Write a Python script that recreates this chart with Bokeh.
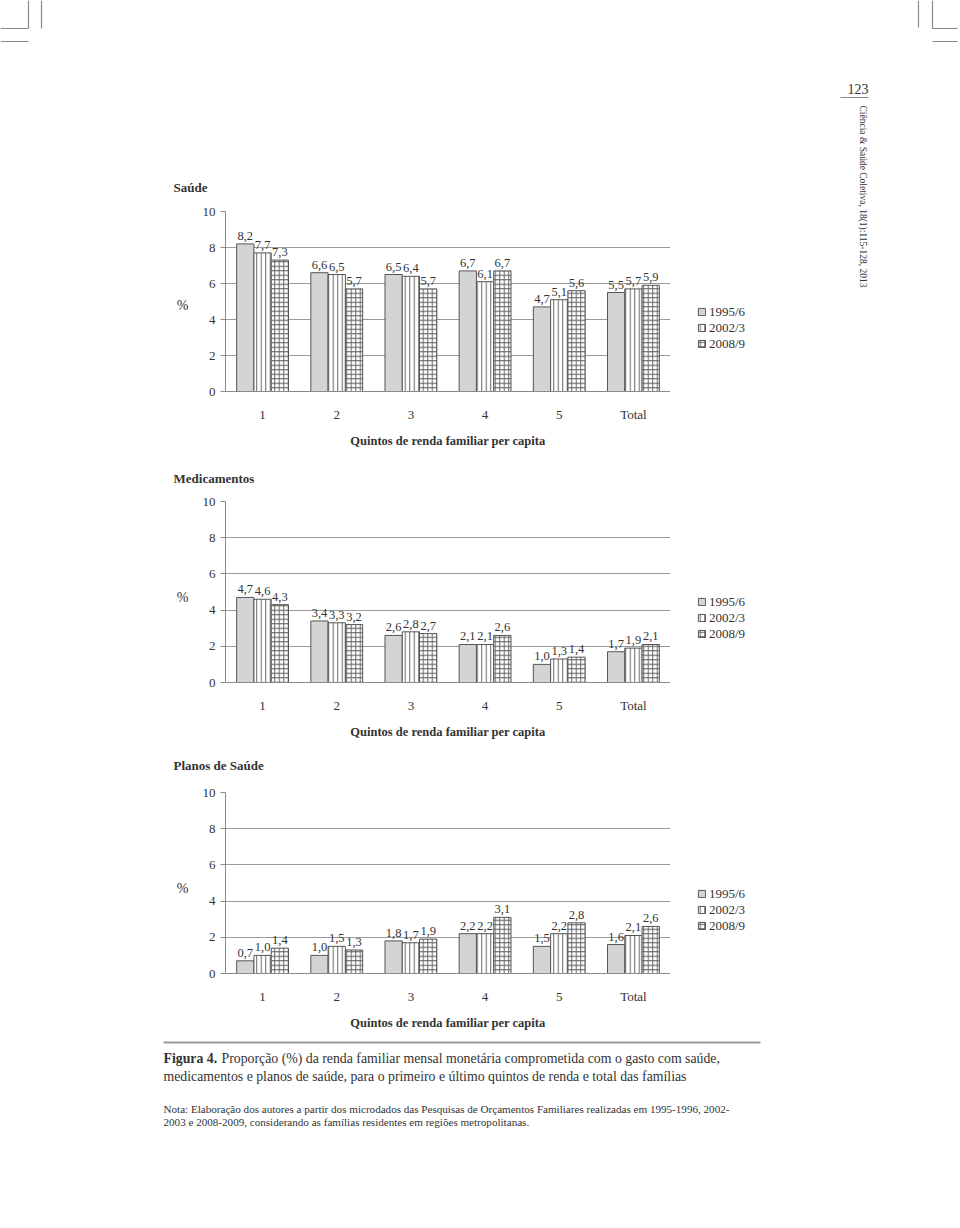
import math
from bokeh.plotting import figure
from bokeh.models import (ColumnDataSource, Range1d, FixedTicker, Label, Legend, LegendItem)
from bokeh.layouts import row, column
from bokeh.transform import dodge
from bokeh.embed import file_html
from bokeh.resources import INLINE
from bokeh.core.properties import value

# ---------------- data ----------------
categories = ["1", "2", "3", "4", "5", "Total"]
series = ["1995/6", "2002/3", "2008/9"]
y_ticks = [0, 2, 4, 6, 8, 10]
x_label = "Quintos de renda familiar per capita"

saude_1995 = [8.2, 6.6, 6.5, 6.7, 4.7, 5.5]
saude_2002 = [7.7, 6.5, 6.4, 6.1, 5.1, 5.7]
saude_2008 = [7.3, 5.7, 5.7, 6.7, 5.6, 5.9]

medic_1995 = [4.7, 3.4, 2.6, 2.1, 1.0, 1.7]
medic_2002 = [4.6, 3.3, 2.8, 2.1, 1.3, 1.9]
medic_2008 = [4.3, 3.2, 2.7, 2.6, 1.4, 2.1]

planos_1995 = [0.7, 1.0, 1.8, 2.2, 1.5, 1.6]
planos_2002 = [1.0, 1.5, 1.7, 2.2, 2.2, 2.1]
planos_2008 = [1.4, 1.3, 1.9, 3.1, 2.8, 2.6]

titles = ["Saúde", "Medicamentos", "Planos de Saúde"]

caption_bold = "Figura 4."
caption_line1 = "Proporção (%) da renda familiar mensal monetária comprometida com o gasto com saúde,"
caption_line2 = "medicamentos e planos de saúde, para o primeiro e último quintos de renda e total das famílias"
nota_line1 = ("Nota: Elaboração dos autores a partir dos microdados das Pesquisas de Orçamentos "
              "Familiares realizadas em 1995-1996, 2002-")
nota_line2 = "2003 e 2008-2009, considerando as famílias residentes em regiões metropolitanas."
journal = "Ciência & Saúde Coletiva, 18(1):115-128, 2013"
page_number = "123"

# ---------------- style ----------------
FONT = "Liberation Serif"
TXT = "#333333"
GRID = "#9a9a9a"
AXIS = "#8a8a8a"
EDGE = "#555555"
W_LEFT = 840
BAR_W = 0.233
OFFSETS = [-BAR_W, 0.0, BAR_W]
STYLES = [
    dict(fill_color="#d4d4d4"),
    dict(fill_color="white", hatch_pattern="|", hatch_color="#666666",
         hatch_scale=4.5, hatch_weight=1),
    dict(fill_color="white", hatch_pattern="+", hatch_color="#666666",
         hatch_scale=4.5, hatch_weight=1),
]


def fmt(v):
    return ("%.1f" % v).replace(".", ",")


def blank(width, height, x0, x1, y0, y1):
    p = figure(width=width, height=height, x_range=Range1d(x0, x1), y_range=Range1d(y0, y1),
               output_backend="svg", toolbar_location=None,
               x_axis_location=None, y_axis_location=None,
               min_border_left=0, min_border_right=0, min_border_top=0, min_border_bottom=0)
    p.frame_align = False
    p.outline_line_color = None
    p.xgrid.grid_line_color = None
    p.ygrid.grid_line_color = None
    p.background_fill_color = "white"
    p.border_fill_color = "white"
    return p


def chart_block(title, title_y, v1, v2, v3, y_top, title_h, row_h, top, bottom, pct_y,
                legend_bottom):
    # title strip
    tf = blank(W_LEFT, title_h, 0, W_LEFT, y_top + title_h, y_top)
    tf.add_layout(Label(x=173, y=title_y, text=title, text_font=FONT, text_font_size="13px",
                        text_font_style="bold", text_color=TXT, text_baseline="middle"))

    r0 = y_top + title_h
    r1 = r0 + row_h
    # left strip with "%"
    lf = blank(195, row_h, 0, 195, r1, r0)
    lf.add_layout(Label(x=182, y=pct_y, text="%", text_font=FONT, text_font_size="14px",
                        text_color=TXT, text_align="center", text_baseline="middle"))

    # chart
    p = figure(x_range=categories, y_range=Range1d(0, 10), width=670 - 195, height=row_h,
               output_backend="svg", toolbar_location=None,
               min_border_left=30, min_border_right=0,
               min_border_top=top, min_border_bottom=bottom)
    p.frame_align = False
    p.outline_line_color = None
    p.background_fill_color = "white"
    p.border_fill_color = "white"

    src = ColumnDataSource(dict(cat=categories, v1=v1, v2=v2, v3=v3,
                                l1=[fmt(v) for v in v1], l2=[fmt(v) for v in v2],
                                l3=[fmt(v) for v in v3]))
    for off, key, st in zip(OFFSETS, ["v1", "v2", "v3"], STYLES):
        p.vbar(x=dodge("cat", off, range=p.x_range), top=key, width=BAR_W, source=src,
               line_color=EDGE, line_width=1, **st)
    for off, key in zip(OFFSETS, ["l1", "l2", "l3"]):
        p.text(x=dodge("cat", off, range=p.x_range), y=key.replace("l", "v"), text=key,
               source=src, text_align="center", text_baseline="bottom", y_offset=-4,
               text_font=value(FONT), text_font_size="12.5px", text_color=TXT)

    p.yaxis.ticker = FixedTicker(ticks=y_ticks)
    p.ygrid.ticker = FixedTicker(ticks=y_ticks)
    p.ygrid.grid_line_color = GRID
    p.xgrid.grid_line_color = None
    p.yaxis.axis_line_color = AXIS
    p.yaxis.major_tick_line_color = AXIS
    p.yaxis.major_tick_in = 0
    p.yaxis.major_tick_out = 5
    p.yaxis.minor_tick_line_color = None
    p.yaxis.major_label_standoff = 5
    p.yaxis.major_label_text_font = FONT
    p.yaxis.major_label_text_font_size = "13px"
    p.yaxis.major_label_text_color = TXT

    p.xaxis.axis_line_color = AXIS
    p.xaxis.major_tick_line_color = None
    p.xaxis.minor_tick_line_color = None
    p.xaxis.major_label_standoff = 9
    p.xaxis.major_label_text_font = FONT
    p.xaxis.major_label_text_font_size = "13px"
    p.xaxis.major_label_text_color = TXT
    p.xaxis.axis_label = x_label
    p.xaxis.axis_label_standoff = 9
    p.xaxis.axis_label_text_font = FONT
    p.xaxis.axis_label_text_font_size = "12.5px"
    p.xaxis.axis_label_text_font_style = "bold"
    p.xaxis.axis_label_text_color = TXT

    # legend strip (swatch renderers are hidden; only their legend glyphs show)
    gf = blank(W_LEFT - 670, row_h, 670, W_LEFT, r1, r0)
    rends = []
    for st in STYLES:
        r = gf.vbar(x=[0], top=[0], width=1, line_color=EDGE, line_width=1, **st)
        r.visible = False
        rends.append(r)
    legend = Legend(items=[LegendItem(label=s, renderers=[r]) for s, r in zip(series, rends)],
                    location=(27, r1 - legend_bottom), orientation="vertical",
                    label_text_font=FONT, label_text_font_size="13px", label_text_color=TXT,
                    glyph_width=9, glyph_height=9, label_height=9, label_standoff=3,
                    spacing=0, padding=0, margin=0, border_line_color=None,
                    background_fill_alpha=0)
    gf.add_layout(legend)

    return column(tf, row(lf, p, gf))


# top strip with crop marks
top_fig = blank(W_LEFT, 160, 0, W_LEFT, 160, 0)
top_fig.segment(x0=[28, 0, 41, 0], y0=[0, 28, 0, 41], x1=[28, 28, 41, 28], y1=[28, 28, 28, 41],
                line_color="#8a8a8a", line_width=1.2)

b1 = chart_block(titles[0], 187, saude_1995, saude_2002, saude_2008,
                 160, 40, 250, 11, 58, 305, 351.5)
b2 = chart_block(titles[1], 478, medic_1995, medic_2002, medic_2008,
                 450, 40, 252, 11, 60, 597, 641.5)
b3 = chart_block(titles[2], 765, planos_1995, planos_2002, planos_2008,
                 742, 40, 253, 10, 62, 888, 933.5)

# caption
cap = blank(W_LEFT, 193, 0, W_LEFT, 1228, 1035)
cap.segment(x0=[163], y0=[1042], x1=[760], y1=[1042], line_color="#9a9a9a", line_width=2)
cap.add_layout(Label(x=163, y=1058, text=caption_bold, text_font=FONT, text_font_size="13.8px",
                     text_font_style="bold", text_color=TXT, text_baseline="middle"))
cap.add_layout(Label(x=221, y=1058, text=caption_line1, text_font=FONT, text_font_size="13.8px",
                     text_color=TXT, text_baseline="middle"))
cap.add_layout(Label(x=163, y=1076, text=caption_line2, text_font=FONT, text_font_size="13.8px",
                     text_color=TXT, text_baseline="middle"))
cap.add_layout(Label(x=163, y=1108, text=nota_line1, text_font=FONT, text_font_size="11.1px",
                     text_color=TXT, text_baseline="middle"))
cap.add_layout(Label(x=163, y=1121, text=nota_line2, text_font=FONT, text_font_size="11.1px",
                     text_color=TXT, text_baseline="middle"))

# right strip: crop marks, page number, running head
strip = blank(960 - W_LEFT, 1228, W_LEFT, 960, 1228, 0)
strip.segment(x0=[918, 932, 932, 932, 838], y0=[0, 0, 28, 41, 97],
              x1=[918, 932, 957, 957, 868], y1=[27, 28, 28, 41, 97],
              line_color="#8a8a8a", line_width=1.2)
strip.add_layout(Label(x=868, y=88, text=page_number, text_font=FONT, text_font_size="14px",
                       text_color=TXT, text_align="right", text_baseline="middle"))
strip.add_layout(Label(x=862, y=105, text=journal, angle=-math.pi / 2, text_font=FONT,
                       text_font_size="9.5px", text_color=TXT, text_align="left",
                       text_baseline="middle"))

layout = row(column(top_fig, b1, b2, b3, cap), strip)

open("out.html", "w").write(file_html(layout, INLINE))
